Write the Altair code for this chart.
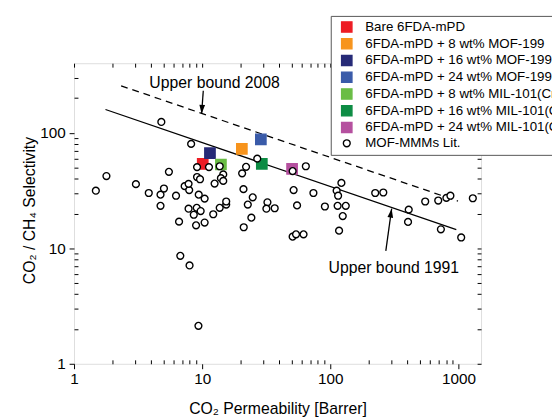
import altair as alt
import pandas as pd

# ---------------- data ----------------
series_names = [
    "Bare 6FDA-mPD",
    "6FDA-mPD + 8 wt% MOF-199",
    "6FDA-mPD + 16 wt% MOF-199",
    "6FDA-mPD + 24 wt% MOF-199",
    "6FDA-mPD + 8 wt% MIL-101(Cr)",
    "6FDA-mPD + 16 wt% MIL-101(Cr)",
    "6FDA-mPD + 24 wt% MIL-101(Cr)",
    "MOF-MMMs Lit.",
]
series_stroke = ["#ed1c24", "#f7941d", "#262a77", "#3a5ba9", "#6abd45", "#0d8c44", "#b5509f", "black"]
series_fill = ["#ed1c24", "#f7941d", "#262a77", "#3a5ba9", "#6abd45", "#0d8c44", "#b5509f", "white"]
series_shape = ["square"] * 7 + ["circle"]
series_size = [110] * 7 + [48]

work_perm = [10.1, 20.4, 11.5, 28.7, 14.0, 29.2, 50.3]
work_sel = [53.8, 72.6, 66.6, 87.7, 53.1, 53.8, 48.7]

lit_perm = [4.80, 8.20, 1.79, 1.48, 3.04, 5.50, 3.83, 5.03, 4.73, 4.73, 6.25, 6.60, 7.30, 7.92, 7.83,
            9.12, 11.3, 9.12, 9.62, 9.40, 10.45,
            7.83, 9.07, 9.73, 8.60, 8.96, 10.45, 12.2, 13.7, 15.4, 15.4,
            13.7, 14.6, 14.0, 14.6, 12.5,
            20.5, 22.0, 21.0, 22.7, 24.8, 24.2, 21.1, 26.9,
            32.3, 31.7, 36.8, 50.8, 51.7, 55.0, 50.8, 54.0, 61.8, 64.4,
            6.75, 7.97, 9.35,
            73.8, 90.7, 112, 122, 115, 114, 132, 125, 117,
            224, 259, 409, 404, 550, 695, 805, 865, 729, 1050, 1294]
lit_sel = [124, 80.1, 42.2, 31.5, 35.9, 45.9, 30.1, 32.9, 29.1, 23.3, 28.5, 17.0, 34.5, 31.9, 36.1,
           50.4, 50.4, 41.4, 39.6, 29.1, 26.9,
           22.0, 22.4, 21.0, 19.5, 15.8, 16.7, 19.7, 22.4, 23.9, 25.4,
           51.3, 43.6, 40.4, 38.3, 36.3,
           44.5, 50.7, 32.5, 23.9, 27.6, 18.4, 15.2, 59.7,
           25.0, 22.0, 22.2, 46.6, 31.9, 23.5, 12.6, 13.2, 13.2, 51.3,
           8.6, 7.1, 2.13,
           30.1, 23.0, 31.5, 36.8, 28.5, 23.3, 23.3, 19.0, 14.2,
           30.1, 30.4, 21.6, 16.9, 25.4, 25.9, 27.3, 28.5, 14.6, 12.4, 27.1]

bound1991_perm = [1.76, 962]
bound1991_sel = [159, 14.5]
bound2008_perm = [2.33, 991]
bound2008_sel = [255, 25.6]

label_text = ["Upper bound 2008", "Upper bound 1991"]
label_perm = [12.5, 313]
label_sel = [268, 6.7]

arrow_id = ["a2008", "a2008", "a1991", "a1991"]
arrow_perm = [10.2, 9.9, 271, 301]
arrow_sel = [231, 146, 9.5, 22]

x_major = [1, 10, 100, 1000]
x_minor = [2, 3, 4, 5, 6, 7, 8, 9, 20, 30, 40, 50, 60, 70, 80, 90,
           200, 300, 400, 500, 600, 700, 800, 900]
y_major = [1, 10, 100]
y_minor = [2, 3, 4, 5, 6, 7, 8, 9, 20, 30, 40, 50, 60, 70, 80, 90, 200, 300]

# ---------------- tables ----------------
markers = pd.DataFrame({
    "perm": work_perm + lit_perm,
    "sel": work_sel + lit_sel,
    "series": series_names[:7] + [series_names[7]] * len(lit_perm),
})
b1991 = pd.DataFrame({"perm": bound1991_perm, "sel": bound1991_sel})
b2008 = pd.DataFrame({"perm": bound2008_perm, "sel": bound2008_sel})
labels = pd.DataFrame({"perm": label_perm, "sel": label_sel, "text": label_text})
arrows = pd.DataFrame({"perm": arrow_perm, "sel": arrow_sel, "arrow": arrow_id})
tip2008 = arrows.iloc[[1]]
tip1991 = arrows.iloc[[3]]

W, H = 413, 305
FONT = "Liberation Sans"

xs = alt.Scale(type="log", domain=[1, 1500], nice=False)
ys = alt.Scale(type="log", domain=[1, 400], nice=False)


def inner_axis(orient, values, length):
    # ticks drawn toward the inside of the frame
    return alt.Axis(orient=orient, values=values, labels=False, title=None, domain=False,
                    grid=False, ticks=True, tickSize=alt.ExprRef(expr=str(-length)),
                    tickColor="black", tickWidth=1)


x_all = sorted(x_major + x_minor)
y_all = sorted(y_major + y_minor)

x_main = alt.Axis(orient="bottom", values=x_major, format="d", tickSize=5, tickColor="black",
                  domain=False, grid=False, labelFont=FONT, labelFontSize=15.5, labelColor="black",
                  labelPadding=3, labelFlush=False, title="CO₂ Permeability [Barrer]",
                  titleFont=FONT, titleFontSize=16, titleFontWeight="normal", titleColor="black",
                  titleBaseline="alphabetic", titleY=50)
y_main = alt.Axis(orient="left", values=y_major, format="d", tickSize=5, tickColor="black",
                  domain=False, grid=False, labelFont=FONT, labelFontSize=15.5, labelColor="black",
                  labelPadding=4, labelFlush=False, title="CO₂ / CH₄ Selectivity",
                  titleFont=FONT, titleFontSize=16, titleFontWeight="normal", titleColor="black",
                  titleBaseline="middle", titleX=-45, titleY=149)

line1991 = alt.Chart(b1991).mark_line(color="black", strokeWidth=1.3).encode(
    x=alt.X("perm:Q", scale=xs, axis=inner_axis("top", x_all, 4)),
    y=alt.Y("sel:Q", scale=ys, axis=inner_axis("right", y_all, 4)),
)
line2008 = alt.Chart(b2008).mark_line(color="black", strokeWidth=1.3, strokeDash=[7, 5]).encode(
    x=alt.X("perm:Q", scale=xs, axis=inner_axis("bottom", x_minor, 4)),
    y=alt.Y("sel:Q", scale=ys, axis=inner_axis("left", y_minor, 4)),
)
shafts = alt.Chart(arrows).mark_line(color="black", strokeWidth=1.3).encode(
    x=alt.X("perm:Q", scale=xs, axis=None),
    y=alt.Y("sel:Q", scale=ys, axis=None),
    detail="arrow:N",
)
head2008 = alt.Chart(tip2008).mark_point(
    shape="M0,0L-0.32,-1L0.32,-1Z", size=324, filled=True, color="black", opacity=1, angle=4
).encode(x=alt.X("perm:Q", scale=xs, axis=None), y=alt.Y("sel:Q", scale=ys, axis=None))
head1991 = alt.Chart(tip1991).mark_point(
    shape="M0,0L-0.32,1L0.32,1Z", size=324, filled=True, color="black", opacity=1, angle=9
).encode(x=alt.X("perm:Q", scale=xs, axis=None), y=alt.Y("sel:Q", scale=ys, axis=None))
texts = alt.Chart(labels).mark_text(font=FONT, fontSize=16, color="black",
                                    align="center", baseline="middle").encode(
    x=alt.X("perm:Q", scale=xs, axis=None),
    y=alt.Y("sel:Q", scale=ys, axis=None),
    text="text:N",
)

leg = alt.Legend(title=None, orient="none", legendX=260.5, legendY=-48,
                 labelFont=FONT, labelFontSize=13.5, labelColor="black", labelLimit=500,
                 labelOffset=12, strokeColor="#555555", fillColor="white", padding=4.5,
                 symbolOffset=5, rowPadding=0, symbolStrokeWidth=1.4)

pts = alt.Chart(markers).mark_point(filled=True, opacity=1, strokeWidth=1.4).encode(
    x=alt.X("perm:Q", scale=xs, axis=x_main),
    y=alt.Y("sel:Q", scale=ys, axis=y_main),
    fill=alt.Fill("series:N", scale=alt.Scale(domain=series_names, range=series_fill), legend=leg),
    stroke=alt.Stroke("series:N", scale=alt.Scale(domain=series_names, range=series_stroke), legend=leg),
    shape=alt.Shape("series:N", scale=alt.Scale(domain=series_names, range=series_shape), legend=leg),
    size=alt.Size("series:N", scale=alt.Scale(type="ordinal", domain=series_names, range=series_size),
                  legend=leg),
    order=alt.Order("idx:Q"),
).transform_window(idx="row_number()")

chart = alt.layer(line1991, line2008, shafts, head2008, head1991, texts, pts).resolve_axis(
    x="independent", y="independent"
).properties(
    width=W, height=H,
    autosize=alt.AutoSizeParams(type="none"),
    padding={"left": 67, "top": 53, "right": 72, "bottom": 52},
).configure_view(stroke="black", strokeWidth=1.2).configure(background="white")

chart.save("out.html", embed_options={"renderer": "svg", "actions": False})
